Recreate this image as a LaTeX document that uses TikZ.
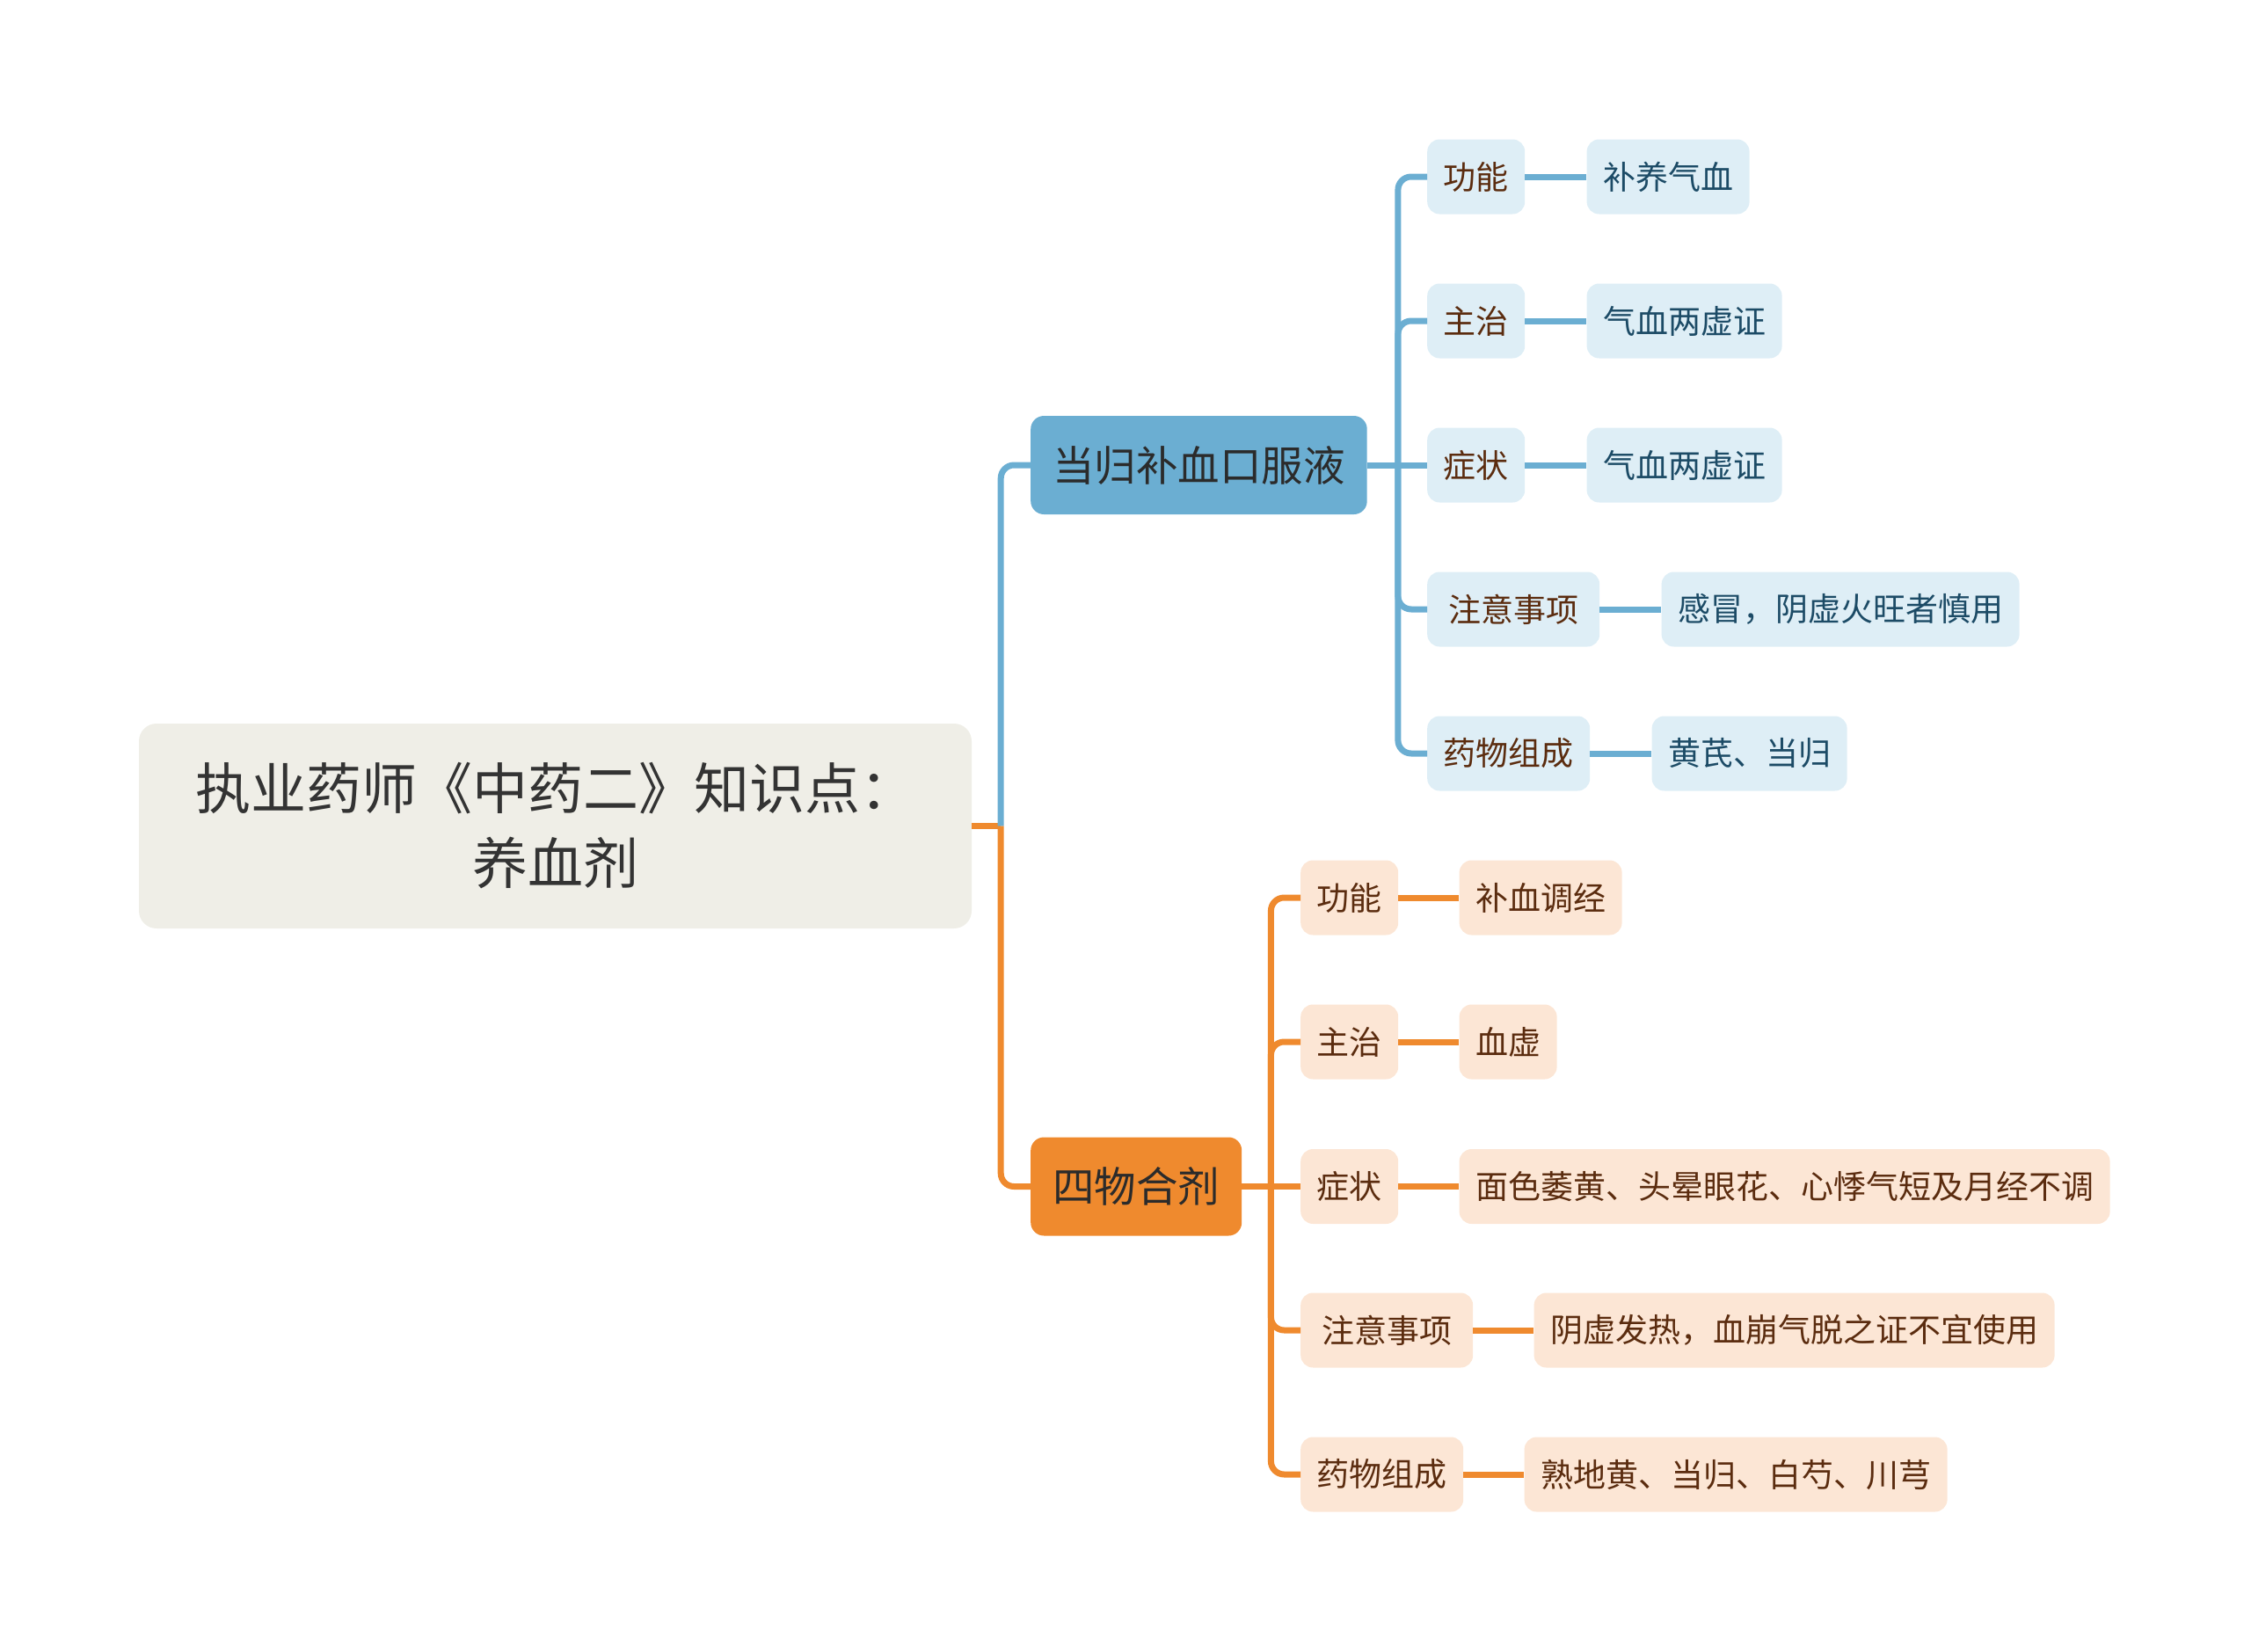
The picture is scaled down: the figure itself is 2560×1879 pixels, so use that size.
\documentclass[tikz,border=0pt]{standalone}
\usepackage{fontspec}
\setmainfont{Noto Sans CJK SC}

\definecolor{rootfill}{HTML}{EFEEE7}
\definecolor{rootink}{HTML}{333333}
\definecolor{bluemain}{HTML}{6BAED2}
\definecolor{bluelight}{HTML}{DEEEF6}
\definecolor{bluetext}{HTML}{1C4B66}
\definecolor{orangemain}{HTML}{EF8A2E}
\definecolor{orangelight}{HTML}{FCE6D5}
\definecolor{browntext}{HTML}{5B2C0F}
\definecolor{branchink}{HTML}{2B2B2B}

\begin{document}
\begin{tikzpicture}[
    x=1pt, y=-1pt,
    box/.style={rectangle, text centered, inner ysep=0pt},
    rootnode/.style={box, fill=rootfill, text=rootink, rounded corners=20, align=center,
        minimum width=947, minimum height=233, font=\fontsize{63}{85}\selectfont},
    branch/.style={box, rounded corners=15, text=branchink, inner xsep=25,
        minimum height=112, font=\fontsize{47.5}{56}\selectfont},
    bluebranch/.style={branch, fill=bluemain},
    orangebranch/.style={branch, fill=orangemain},
    leaf/.style={box, rounded corners=14, inner xsep=18.5, minimum height=85,
        font=\fontsize{37}{44}\selectfont},
    wideleaf/.style={inner xsep=24},
    bluekey/.style={leaf, fill=bluelight, text=browntext},
    blueval/.style={leaf, fill=bluelight, text=bluetext},
    orangekey/.style={leaf, fill=orangelight, text=browntext},
    orangeval/.style={leaf, fill=orangelight, text=browntext},
    bline/.style={draw=bluemain, line width=7, rounded corners=15},
    oline/.style={draw=orangemain, line width=7, rounded corners=15}
]
    \useasboundingbox (0,0) rectangle (2560,1879);

    % 1. Root
    \node[rootnode] (root) at (631.5, 939.5) {执业药师《中药二》知识点：\\养血剂};

    % 2. Branches
    \node[bluebranch, anchor=west] (dg) at (1172, 529) {当归补血口服液};
    \node[orangebranch, anchor=west] (sw) at (1172, 1349.5) {四物合剂};

    % Lines: Root to Branches
    \coordinate (rj) at ([xshift=33]root.east);
    \draw[oline] (root.east) -- (rj);
    \draw[bline] (rj) |- (dg.west);
    \draw[oline] (rj) |- (sw.west);

    % 3. Keys of the first branch
    \node[bluekey, anchor=west] (dg1) at (1623, 201) {功能};
    \node[bluekey, anchor=west] (dg2) at (1623, 365) {主治};
    \node[bluekey, anchor=west] (dg3) at (1623, 529) {症状};
    \node[bluekey, wideleaf, anchor=west] (dg4) at (1623, 693) {注意事项};
    \node[bluekey, anchor=west] (dg5) at (1623, 857) {药物组成};

    % Values of the first branch
    \node[blueval, anchor=west, xshift=70] (dgv1) at (dg1.east) {补养气血};
    \node[blueval, anchor=west, xshift=70] (dgv2) at (dg2.east) {气血两虚证};
    \node[blueval, anchor=west, xshift=70] (dgv3) at (dg3.east) {气血两虚证};
    \node[blueval, anchor=west, xshift=70] (dgv4) at (dg4.east) {感冒，阴虚火旺者慎用};
    \node[blueval, anchor=west, xshift=70] (dgv5) at (dg5.east) {黄芪、当归};

    % Lines: first branch
    \coordinate (dj) at ([xshift=35]dg.east);
    \draw[bline] (dg.east) -- (dj);
    \draw[bline] (dj) |- (dg1.west);
    \draw[bline] (dj) |- (dg2.west);
    \draw[bline] (dj) -- (dg3.west);
    \draw[bline] (dj) |- (dg4.west);
    \draw[bline] (dj) |- (dg5.west);
    \draw[bline] (dg1.east) -- (dgv1.west);
    \draw[bline] (dg2.east) -- (dgv2.west);
    \draw[bline] (dg3.east) -- (dgv3.west);
    \draw[bline] (dg4.east) -- (dgv4.west);
    \draw[bline] (dg5.east) -- (dgv5.west);

    % 4. Keys of the second branch
    \node[orangekey, anchor=west] (sw1) at (1479, 1021) {功能};
    \node[orangekey, anchor=west] (sw2) at (1479, 1185) {主治};
    \node[orangekey, anchor=west] (sw3) at (1479, 1349.5) {症状};
    \node[orangekey, wideleaf, anchor=west] (sw4) at (1479, 1513) {注意事项};
    \node[orangekey, anchor=west] (sw5) at (1479, 1677) {药物组成};

    % Values of the second branch
    \node[orangeval, anchor=west, xshift=69] (swv1) at (sw1.east) {补血调经};
    \node[orangeval, anchor=west, xshift=69] (swv2) at (sw2.east) {血虚};
    \node[orangeval, anchor=west, xshift=69] (swv3) at (sw3.east) {面色萎黄、头晕眼花、心悸气短及月经不调};
    \node[orangeval, anchor=west, xshift=69] (swv4) at (sw4.east) {阴虚发热，血崩气脱之证不宜使用};
    \node[orangeval, anchor=west, xshift=69] (swv5) at (sw5.east) {熟地黄、当归、白芍、川芎};

    % Lines: second branch
    \coordinate (sj) at ([xshift=33]sw.east);
    \draw[oline] (sw.east) -- (sj);
    \draw[oline] (sj) |- (sw1.west);
    \draw[oline] (sj) |- (sw2.west);
    \draw[oline] (sj) -- (sw3.west);
    \draw[oline] (sj) |- (sw4.west);
    \draw[oline] (sj) |- (sw5.west);
    \draw[oline] (sw1.east) -- (swv1.west);
    \draw[oline] (sw2.east) -- (swv2.west);
    \draw[oline] (sw3.east) -- (swv3.west);
    \draw[oline] (sw4.east) -- (swv4.west);
    \draw[oline] (sw5.east) -- (swv5.west);

\end{tikzpicture}
\end{document}
